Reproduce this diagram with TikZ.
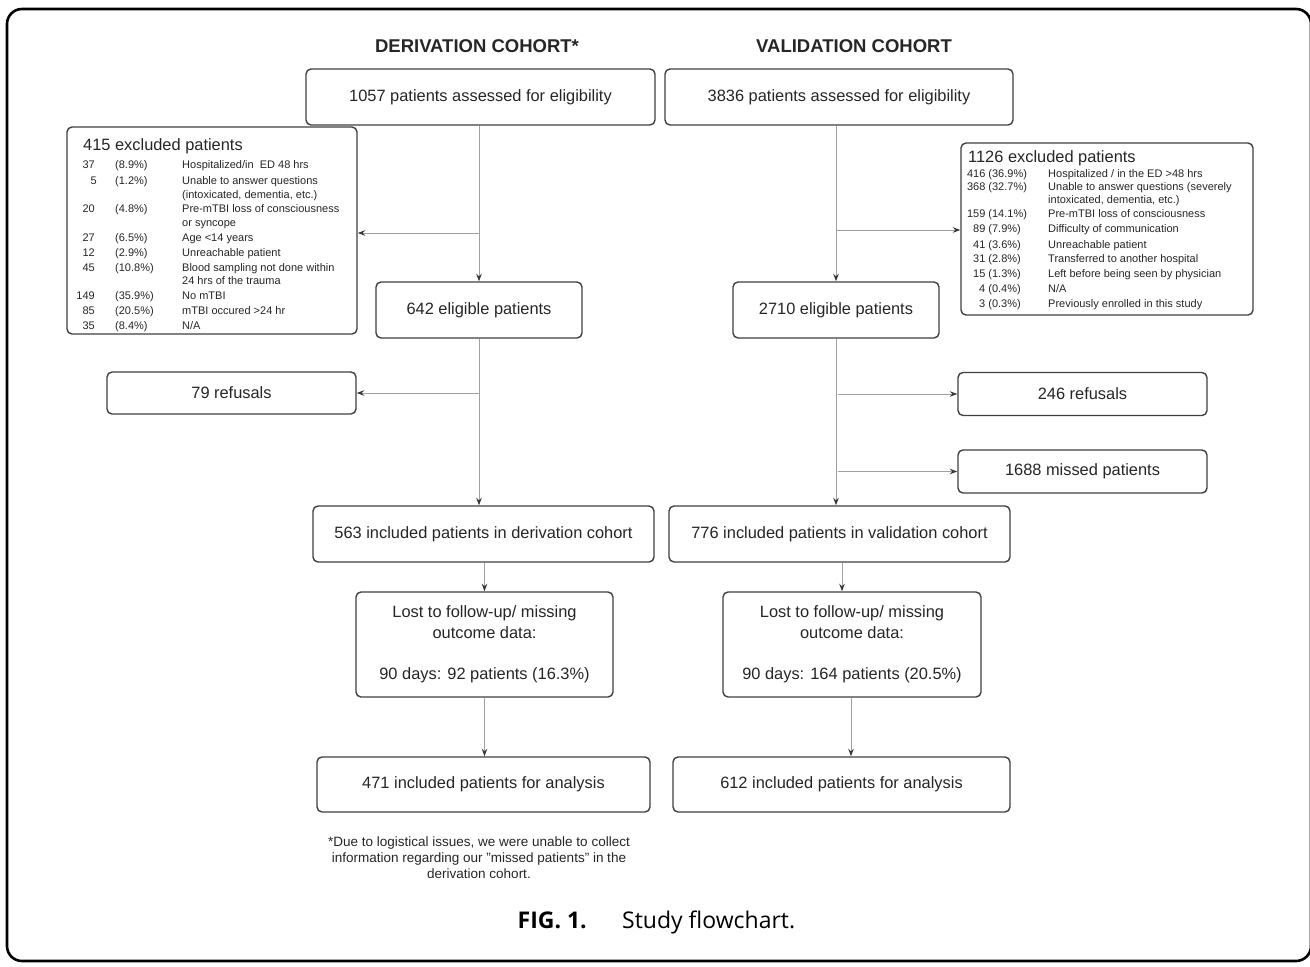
\documentclass[tikz,border=0pt]{standalone}
\usepackage{fontspec}
\setmainfont{Liberation Sans}
\newfontfamily\capfont{Open Sans}
\usetikzlibrary{arrows.meta}
\definecolor{boxgray}{HTML}{404040}
\definecolor{txtgray}{HTML}{262626}
\definecolor{linegray}{HTML}{A0A0A0}
\definecolor{tipgray}{HTML}{3A3A3A}
\begin{document}
\begin{tikzpicture}[x=1pt,y=-1pt,
  box/.style={draw=boxgray, line width=1.4pt, rounded corners=5pt, inner sep=0pt,
    align=center, text=txtgray, font=\fontsize{16.4}{20.5}\selectfont},
  conn/.style={draw=linegray, line width=1pt, -{Stealth[length=7.5pt,width=5.5pt,color=tipgray]}},
  hdr/.style={font=\bfseries\fontsize{18.5}{22}\selectfont, text=txtgray},
  row/.style={inner sep=0pt, text=txtgray, font=\fontsize{11}{12}\selectfont},
  ttl/.style={inner sep=0pt, text=txtgray, font=\fontsize{16.4}{18}\selectfont, anchor=base west},
  note/.style={align=center, text=txtgray, font=\fontsize{13.5}{16}\selectfont}]
\useasboundingbox (0,0) rectangle (1310,967);
\fill[white] (0,0) rectangle (1310,967);
\draw[black, line width=2.6pt, rounded corners=15pt] (7,9) rectangle (1311,961);

% headers
\node[hdr] (h1) at (477,46) {DERIVATION COHORT*};
\node[hdr] (h2) at (854,46) {VALIDATION COHORT};

% main boxes
\node[box, minimum width=349pt, minimum height=56pt] (a1) at (480.5,97) {1057 patients assessed for eligibility};
\node[box, minimum width=348pt, minimum height=56pt] (b1) at (839,97) {3836 patients assessed for eligibility};
\node[box, minimum width=206pt, minimum height=56pt] (a2) at (479,310) {642 eligible patients};
\node[box, minimum width=206pt, minimum height=56pt] (b2) at (836,310) {2710 eligible patients};
\node[box, minimum width=249pt, minimum height=42pt] (ar) at (231.5,393) {79 refusals};
\node[box, minimum width=249pt, minimum height=43pt] (br) at (1082.5,394) {246 refusals};
\node[box, minimum width=249pt, minimum height=43pt] (bm) at (1082.5,471.5) {1688 missed patients};
\node[box, minimum width=341pt, minimum height=56pt] (a3) at (483.5,534) {563 included patients in derivation cohort};
\node[box, minimum width=341pt, minimum height=56pt] (b3) at (839.5,534) {776 included patients in validation cohort};
\node[box, minimum width=257pt, minimum height=105pt] (a4) at (484.5,644.5) {Lost to follow-up/ missing\\outcome data:\\[20.5pt]90 days: 92 patients (16.3\%)};
\node[box, minimum width=258pt, minimum height=105pt] (b4) at (852,644.5) {Lost to follow-up/ missing\\outcome data:\\[20.5pt]90 days: 164 patients (20.5\%)};
\node[box, minimum width=333pt, minimum height=55pt] (a5) at (483.5,784.5) {471 included patients for analysis};
\node[box, minimum width=337pt, minimum height=55pt] (b5) at (841.5,784.5) {612 included patients for analysis};

% excluded boxes
\node[draw=boxgray, line width=1.4pt, rounded corners=5pt, minimum width=290pt, minimum height=207pt, inner sep=0pt] (ex1) at (212,230.5) {};
\node[draw=boxgray, line width=1.4pt, rounded corners=5pt, minimum width=292pt, minimum height=172pt, inner sep=0pt] (ex2) at (1107,229) {};

\node[ttl] (t1) at (83,150) {415 excluded patients};
\node[row, anchor=base east] (n1) at (95,168) {37};
\node[row, anchor=base west] (p1) at (115,168) {(8.9\%)};
\node[row, anchor=base west] (d1) at (182,168) {Hospitalized/in\ \ ED 48 hrs};
\node[row, anchor=base east] (n2) at (97,184) {5};
\node[row, anchor=base west] (p2) at (115,184) {(1.2\%)};
\node[row, anchor=base west] (d2) at (182,184) {Unable to answer questions};
\node[row, anchor=base west] (d2b) at (182,198) {(intoxicated, dementia, etc.)};
\node[row, anchor=base east] (n3) at (95,212) {20};
\node[row, anchor=base west] (p3) at (115,212) {(4.8\%)};
\node[row, anchor=base west] (d3) at (182,212) {Pre-mTBI loss of consciousness};
\node[row, anchor=base west] (d3b) at (182,226) {or syncope};
\node[row, anchor=base east] (n4) at (95,241) {27};
\node[row, anchor=base west] (p4) at (115,241) {(6.5\%)};
\node[row, anchor=base west] (d4) at (182,241) {Age <14 years};
\node[row, anchor=base east] (n5) at (95,256) {12};
\node[row, anchor=base west] (p5) at (115,256) {(2.9\%)};
\node[row, anchor=base west] (d5) at (182,256) {Unreachable patient};
\node[row, anchor=base east] (n6) at (95,271) {45};
\node[row, anchor=base west] (p6) at (115,271) {(10.8\%)};
\node[row, anchor=base west] (d6) at (182,271) {Blood sampling not done within};
\node[row, anchor=base west] (d6b) at (182,284) {24 hrs of the trauma};
\node[row, anchor=base east] (n7) at (95,299) {149};
\node[row, anchor=base west] (p7) at (115,299) {(35.9\%)};
\node[row, anchor=base west] (d7) at (182,299) {No mTBI};
\node[row, anchor=base east] (n8) at (95,314) {85};
\node[row, anchor=base west] (p8) at (115,314) {(20.5\%)};
\node[row, anchor=base west] (d8) at (182,314) {mTBI occured >24 hr};
\node[row, anchor=base east] (n9) at (95,329) {35};
\node[row, anchor=base west] (p9) at (115,329) {(8.4\%)};
\node[row, anchor=base west] (d9) at (182,329) {N/A};

\node[ttl] (t2) at (968,162) {1126 excluded patients};
\node[row, anchor=base] (m1) at (997,177) {416 (36.9\%)};
\node[row, anchor=base west] (e1) at (1048,177) {Hospitalized / in the ED >48 hrs};
\node[row, anchor=base] (m2) at (997,190) {368 (32.7\%)};
\node[row, anchor=base west] (e2) at (1048,190) {Unable to answer questions (severely};
\node[row, anchor=base west] (e2b) at (1048,203) {intoxicated, dementia, etc.)};
\node[row, anchor=base] (m3) at (997,217) {159 (14.1\%)};
\node[row, anchor=base west] (e3) at (1048,217) {Pre-mTBI loss of consciousness};
\node[row, anchor=base] (m4) at (997,232) {89 (7.9\%)};
\node[row, anchor=base west] (e4) at (1048,232) {Difficulty of communication};
\node[row, anchor=base] (m5) at (997,248) {41 (3.6\%)};
\node[row, anchor=base west] (e5) at (1048,248) {Unreachable patient};
\node[row, anchor=base] (m6) at (997,262) {31 (2.8\%)};
\node[row, anchor=base west] (e6) at (1048,262) {Transferred to another hospital};
\node[row, anchor=base] (m7) at (997,277) {15 (1.3\%)};
\node[row, anchor=base west] (e7) at (1048,277) {Left before being seen by physician};
\node[row, anchor=base] (m8) at (1000,292) {4 (0.4\%)};
\node[row, anchor=base west] (e8) at (1048,292) {N/A};
\node[row, anchor=base] (m9) at (1000,307) {3 (0.3\%)};
\node[row, anchor=base west] (e9) at (1048,307) {Previously enrolled in this study};

% connectors, derivation
\draw[conn] (a1.south -| a2.north) -- (a2.north);
\coordinate (j1) at (479,233);
\draw[conn] (j1) -- (j1 -| ex1.east);
\draw[conn] (a2.south) -- (a3.north -| a2.south);
\coordinate (j2) at (479,393);
\draw[conn] (j2) -- (ar.east);
\draw[conn] (a3.south -| a4.north) -- (a4.north);
\draw[conn] (a4.south) -- (a5.north -| a4.south);

% connectors, validation
\draw[conn] (b1.south -| b2.north) -- (b2.north);
\coordinate (k1) at (836,230);
\draw[conn] (k1) -- (k1 -| ex2.west);
\draw[conn] (b2.south) -- (b3.north -| b2.south);
\coordinate (k2) at (838,394);
\draw[conn] (k2) -- (br.west);
\coordinate (k3) at (838,471.5);
\draw[conn] (k3) -- (bm.west);
\draw[conn] (b3.south -| 842,0) -- (b4.north -| 842,0);
\draw[conn] (b4.south -| 851,0) -- (b5.north -| 851,0);

% footnote and caption
\node[note] (fn) at (479,858) {*Due to logistical issues, we were unable to collect\\information regarding our \symbol{34}missed patients\symbol{34} in the\\derivation cohort.};
\node[font=\capfont\bfseries\fontsize{23}{26}\selectfont, text=black, anchor=base east, inner sep=0pt] (cap1) at (587,928) {FIG. 1.};
\node[font=\capfont\fontsize{23}{26}\selectfont, text=black, anchor=base west, inner sep=0pt] (cap2) at (622,928) {Study flowchart.};
\end{tikzpicture}
\end{document}
